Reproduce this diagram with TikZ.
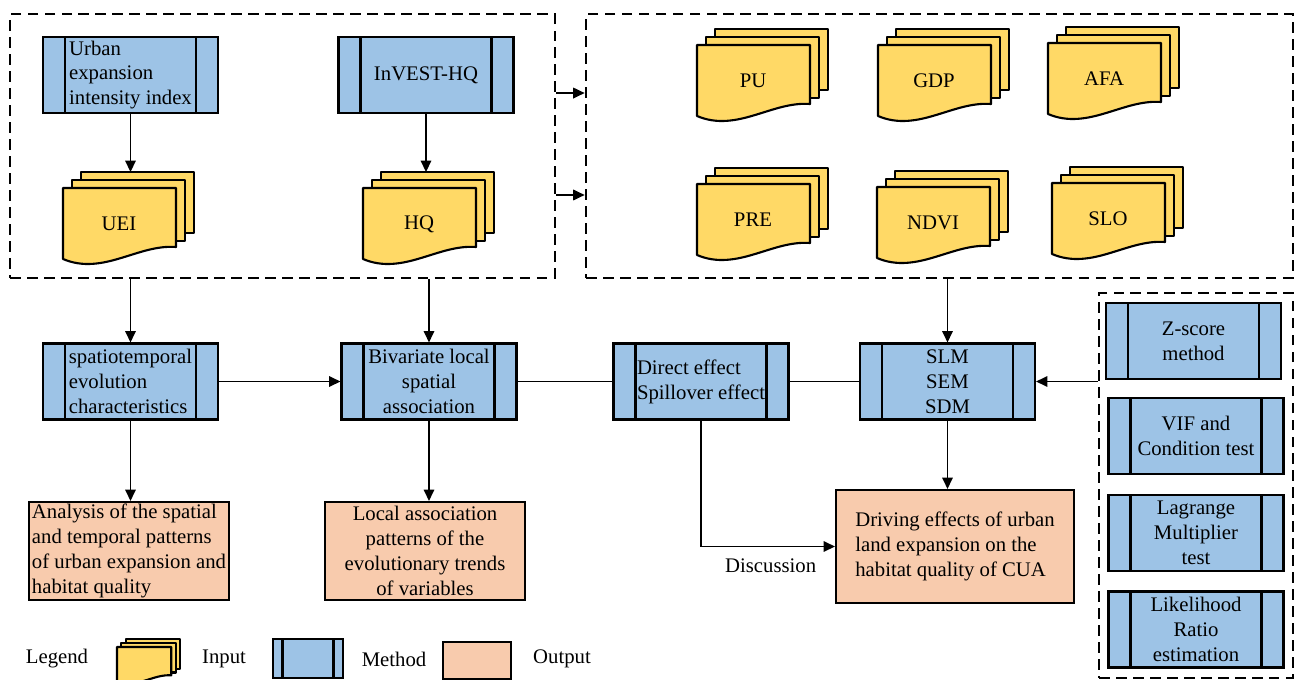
\documentclass[tikz,border=0pt]{standalone}
\usepackage{fontspec}
\setmainfont{Liberation Serif}
\usetikzlibrary{arrows.meta}

\definecolor{inyellow}{HTML}{FFD966}
\definecolor{methodblue}{HTML}{9DC3E6}
\definecolor{outpeach}{HTML}{F8CBAD}

% stack of three input sheets: name, corner of front sheet, label
\newcommand{\docstack}[3]{%
  \begin{scope}[shift={#2}]
    \draw[page] (18,-16) rectangle ++(113,61);
    \draw[page] (9,-8) rectangle ++(113,61);
    \draw[page] (0,0) -- (113,0) -- (113,59) .. controls (75,56) and (40,88) .. (0,71) -- cycle;
    \node (#1) at (56,36) {#3};
    \coordinate (#1-top) at (74.5,-16);
  \end{scope}}

\begin{document}
\begin{tikzpicture}[
          x=0.02cm, y=-0.02cm,
          font=\fontsize{11.8pt}{14.2pt}\selectfont,
          page/.style={draw, fill=inyellow, line width=1.2pt, line join=round},
          bars/.style={path picture={\draw[line width=1.2pt]
              ([xshift=#1]path picture bounding box.north west) -- ([xshift=#1]path picture bounding box.south west)
              ([xshift=-#1]path picture bounding box.north east) -- ([xshift=-#1]path picture bounding box.south east);}},
          method/.style={rectangle, draw, line width=1.2pt, fill=methodblue, minimum width=3.5cm, minimum height=1.52cm, inner sep=1pt, bars=0.44cm},
          output/.style={rectangle, draw, line width=1.2pt, fill=outpeach, inner sep=0pt},
          group/.style={rectangle, draw, line width=1.6pt, dash pattern=on 0.21cm off 0.13cm, inner sep=0pt},
          arrow/.style={-{Triangle[length=6.5pt,width=6pt]}, line width=0.9pt},
          link/.style={line width=0.9pt}
        ]
          \useasboundingbox (0,0) rectangle (1296,680);

          % dashed groups
          \node[group, minimum width=10.9cm, minimum height=5.28cm] (inputs) at (282.5,146) {};
          \node[group, minimum width=14.14cm, minimum height=5.28cm] (vars) at (939.5,146) {};
          \node[group, minimum width=3.88cm, minimum height=7.7cm] (tests) at (1196,485.5) {};

          % urban expansion and habitat quality
          \node[method, align=left] (urban) at (130.5,75) {Urban\\expansion\\intensity index};
          \node[method] (invest) at (426,75) {InVEST-HQ};
          \docstack{uei}{(63,188)}{UEI}
          \docstack{hq}{(363,188)}{HQ}
          \draw[arrow] (urban) -- (urban |- uei-top);
          \draw[arrow] (invest) -- (invest |- hq-top);

          % driving factors
          \docstack{pu}{(697,45)}{PU}
          \docstack{gdp}{(878,45)}{GDP}
          \docstack{afa}{(1048,43)}{AFA}
          \docstack{pre}{(697,184)}{PRE}
          \docstack{ndvi}{(877,187)}{NDVI}
          \docstack{slo}{(1052,183)}{SLO}
          \draw[arrow] ([yshift=1.06cm]inputs.east) -- ([yshift=1.06cm]vars.west);
          \draw[arrow] ([yshift=-0.98cm]inputs.east) -- ([yshift=-0.98cm]vars.west);

          % methods
          \node[method, align=left] (spatio) at (130.5,381.5) {spatiotemporal\\evolution\\characteristics};
          \node[method, align=center] (bivar) at (429,381.5) {Bivariate local\\spatial\\association};
          \node[method, align=left] (direct) at (701,381.5) {Direct effect\\Spillover effect};
          \node[method, align=center] (slm) at (947.5,381.5) {SLM\\SEM\\SDM};

          \draw[arrow] (spatio |- inputs.south) -- (spatio);
          \draw[arrow] (bivar |- inputs.south) -- (bivar);
          \draw[arrow] (slm |- vars.south) -- (slm);
          \draw[arrow] (spatio) -- (bivar);
          \draw[link] (bivar) -- (direct);
          \draw[link] (direct) -- (slm);
          \draw[arrow] (tests.west |- slm) -- (slm);

          % tests
          \node[method, align=center] (zscore) at (1193.5,341) {Z-score\\method};
          \node[method, align=center] (vif) at (1196,436) {VIF and\\Condition test};
          \node[method, align=center] (lm) at (1196,533) {Lagrange\\Multiplier\\test};
          \node[method, align=center] (lr) at (1196,629.5) {Likelihood\\Ratio\\estimation};

          % outputs
          \node[output, minimum width=4cm, minimum height=1.96cm, align=left] (analysis) at (129,551)
            {Analysis of the spatial\\and temporal patterns\\of urban expansion and\\habitat quality};
          \node[output, minimum width=4cm, minimum height=1.96cm, align=center] (local) at (425,551)
            {Local association\\patterns of the\\evolutionary trends\\of variables};
          \node[output, minimum width=4.76cm, minimum height=2.26cm, align=left] (driving) at (955,546.5)
            {Driving effects of urban\\land expansion on the\\habitat quality of CUA};

          \draw[arrow] (spatio) -- (spatio |- analysis.north);
          \draw[arrow] (bivar) -- (bivar |- local.north);
          \draw[arrow] (slm) -- (slm |- driving.north);
          \draw[arrow] (direct) |- node[pos=0.76, below=3pt] (disc) {Discussion} (driving.west);

          % legend
          \node (legtitle) at (57,659) {Legend};
          \begin{scope}[shift={(117,647)}, scale=0.48]
            \docstack{legin}{(0,0)}{}
          \end{scope}
          \node (leginput) at (224,659) {Input};
          \node[method, minimum width=1.4cm, minimum height=0.78cm, bars=0.19cm] (legmethod) at (308,658.5) {};
          \node (legmethodtxt) at (394,659) {Method};
          \node[output, minimum width=1.36cm, minimum height=0.74cm] (legoutput) at (477,660.5) {};
          \node (legoutputtxt) at (562,659) {Output};

        \end{tikzpicture}
\end{document}
